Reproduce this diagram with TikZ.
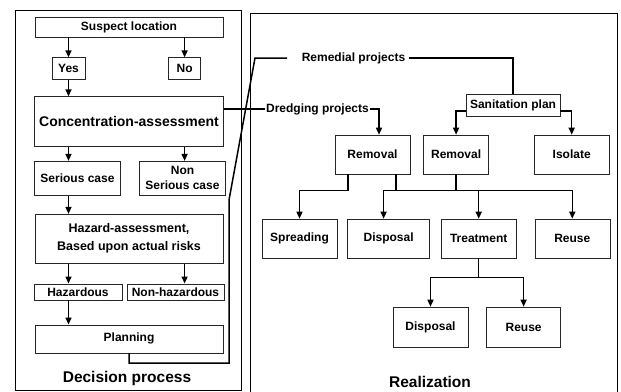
\documentclass[tikz,border=0pt]{standalone}
\usepackage{fontspec}
\setmainfont{Liberation Sans}
\usetikzlibrary{arrows.meta,positioning,calc}

\begin{document}
\begin{tikzpicture}[
  x=1pt, y=-1pt, % pixel grid, y downwards
  >={Triangle[length=7pt, width=6pt]},
  box/.style ={draw=black!85, line width=0.6pt, align=center, inner sep=2pt,
               font=\bfseries\fontsize{12}{15}\selectfont},
  blk/.style ={box, minimum width=75pt, minimum height=39pt},
  big/.style ={font=\bfseries\fontsize{14}{16}\selectfont},
  haz/.style ={font=\bfseries\fontsize{12.5}{18}\selectfont},
  lbl/.style ={inner sep=1pt, font=\bfseries\fontsize{12}{14}\selectfont},
  title/.style={inner sep=1pt, font=\bfseries\fontsize{15.5}{18}\selectfont},
  frame/.style={draw, line width=1pt},
  link/.style ={line width=1.5pt},
  flow/.style ={link, ->},
]
\useasboundingbox (0,0) rectangle (621,391);

% ---------- Panels ----------
\draw[frame] (15,10) rectangle (241,390);
\draw[frame] (250,13) rectangle (617,394);

% ---------- Decision process ----------
\node[box, minimum width=188pt, minimum height=20pt] (suspect) at (129,27) {Suspect location};
\node[box, minimum width=33pt, minimum height=22pt, below=20pt of suspect.south west, anchor=north west, xshift=17pt] (yes) {Yes};
\node[box, minimum width=32pt, minimum height=22pt, right=83pt of yes] (no) {No};

\node[box, big, minimum width=189pt, minimum height=50pt, below=59pt of suspect] (conc) {Concentration-assessment};
\node[box, minimum width=86pt, minimum height=34pt, below=14pt of conc.south west, anchor=north west] (serious) {Serious case};
\node[box, minimum width=86pt, minimum height=34pt, below=14pt of conc.south east, anchor=north east, xshift=2pt] (nonserious) {Non\\Serious case};

\node[box, haz, minimum width=188pt, minimum height=49pt, below=67pt of conc] (hazard) {Hazard-assessment,\\Based upon actual risks};
\node[box, minimum width=88pt, minimum height=16pt, below=20pt of hazard.south west, anchor=north west, xshift=-1pt] (hazardous) {Hazardous};
\node[box, minimum width=97pt, minimum height=16pt, below=20pt of hazard.south east, anchor=north east, xshift=1pt] (nonhaz) {Non-hazardous};
\node[box, minimum width=188pt, minimum height=28pt, below=61pt of hazard] (planning) {Planning};

\draw[flow] (suspect.south -| yes) -- (yes);
\draw[flow] (suspect.south -| no) -- (no);
\draw[flow] (yes) -- (conc.north -| yes);
\draw[flow] (conc.south -| yes) -- (serious.north -| yes);
\draw[flow] (conc.south -| no) -- (nonserious.north -| no);
\draw[flow] (serious.south -| yes) -- (hazard.north -| yes);
\draw[flow] (hazard.south -| yes) -- (hazardous.north -| yes);
\draw[flow] (hazard.south -| no) -- (nonhaz.north -| no);
\draw[flow] (hazardous.south -| yes) -- (planning.north -| yes);

\node[title] (decision) at (127,378) {Decision process};

% ---------- Realization ----------
\node[lbl, inner sep=4pt] (remedial) at (353.5,58) {Remedial projects};
\node[lbl] (dredge) at (317.5,109) {Dredging projects};
\node[box, inner sep=1pt, minimum width=94pt, minimum height=22pt] (sanit) at (513,105) {Sanitation plan};

\node[blk] (rem1) at (372.5,154.5) {Removal};
\node[blk, minimum width=65pt, right=13pt of rem1] (rem2) {Removal};
\node[blk, right=45pt of rem2] (isolate) {Isolate};

\node[blk] (spread) at (299.5,238.5) {Spreading};
\node[blk, minimum width=82pt, right=10pt of spread] (disp1) {Disposal};
\node[blk, right=11pt of disp1] (treat) {Treatment};
\node[blk, right=18pt of treat] (reuse1) {Reuse};

\node[blk, minimum height=40pt] (disp2) at (430.5,327) {Disposal};
\node[blk, minimum width=74pt, minimum height=40pt, right=18pt of disp2] (reuse2) {Reuse};

\node[title] (realize) at (430,382) {Realization};

% planning feeds the remedial projects
\coordinate (lp1) at (229,363);
\coordinate (lp2) at (229,200);
\coordinate (lp3) at (255,58);
\coordinate (lp4) at (287,58);
\draw[link] (planning.south) |- (lp1) -- (lp2) -- (lp3) -- (lp4);
\draw[link] (remedial.east) -| (sanit.north);

\draw[link] (conc.east |- dredge.west) -- (dredge.west);
\draw[flow] (dredge.east) -| ([xshift=6.5pt]rem1.north);

\draw[flow] ([yshift=-6pt]sanit.west) -| (rem2.north);
\draw[flow] ([yshift=-6pt]sanit.east) -| (isolate.north);

% removal to processing
\draw[flow] ([xshift=-24.5pt]rem1.south) -- ++(0,16) -| (spread.north);
\draw[link] ([xshift=23.5pt]rem1.south) -- ++(0,16);
\draw[flow] (rem2.south) -- ++(0,16) -| ([xshift=-5pt]disp1.north);
\foreach \t in {treat,reuse1}
  \draw[flow] (rem2.south) -- ++(0,16) -| (\t.north);

\foreach \t in {disp2,reuse2}
  \draw[flow] (treat.south) -- ++(0,19) -| (\t.north);

\end{tikzpicture}
\end{document}
